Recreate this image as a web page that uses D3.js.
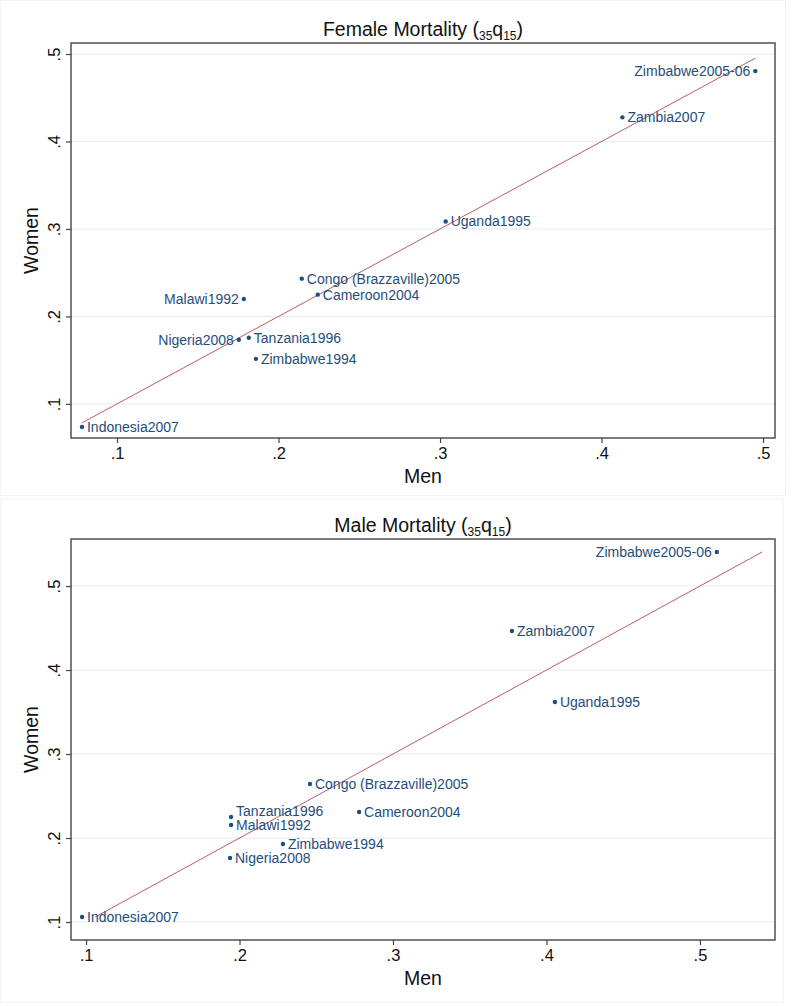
<!DOCTYPE html>
<html>
<head>
<meta charset="utf-8">
<script src="https://cdn.jsdelivr.net/npm/d3@7"></script>
<style>
  html, body { margin: 0; padding: 0; background: #fff; }
  svg { display: block; font-family: "Liberation Sans", Arial, Helvetica, sans-serif; }
</style>
</head>
<body>
<svg id="chart" width="793" height="1006"></svg>
<script>
// ---- Data ----
const countries = ["Indonesia2007", "Malawi1992", "Nigeria2008", "Tanzania1996", "Zimbabwe1994",
  "Congo (Brazzaville)2005", "Cameroon2004", "Uganda1995", "Zambia2007", "Zimbabwe2005-06"];

// Female mortality (35q15)
const femaleMen   = [0.0783, 0.1785, 0.1754, 0.1816, 0.1860, 0.2144, 0.2243, 0.3035, 0.4129, 0.4952];
const femaleWomen = [0.0737, 0.2200, 0.1733, 0.1756, 0.1515, 0.2432, 0.2249, 0.3085, 0.4276, 0.4805];
// Male mortality (35q15)
const maleMen   = [0.0974, 0.1945, 0.1938, 0.1945, 0.2283, 0.2459, 0.2779, 0.4055, 0.3775, 0.5110];
const maleWomen = [0.1060, 0.2155, 0.1762, 0.2250, 0.1929, 0.2643, 0.2310, 0.3619, 0.4464, 0.5405];

// marker label clock positions (Stata mlabvposition)
const femaleLabelPos = [3, 9, 9, 3, 3, 3, 3, 3, 3, 9];
const maleLabelPos   = [3, 3, 3, 2, 3, 3, 3, 3, 3, 9];

const tickValues = [0.1, 0.2, 0.3, 0.4, 0.5];
const tickLabels = [".1", ".2", ".3", ".4", ".5"];

// ---- Layout ----
const svg = d3.select("#chart");
const navy = "#1f4e7a";
const lineColor = "#b65f66";

// faint panel borders
svg.append("rect").attr("x", 0.5).attr("y", 0.5).attr("width", 785).attr("height", 495)
  .attr("fill", "none").attr("stroke", "#f0f4f5");
svg.append("rect").attr("x", 0.5).attr("y", 499.5).attr("width", 783).attr("height", 503)
  .attr("fill", "none").attr("stroke", "#f0f4f5");

const panels = [
  { title: ["Female Mortality (", "35", "q", "15", ")"], men: femaleMen, women: femaleWomen, pos: femaleLabelPos,
    xDomain: [0.0715, 0.5074], yDomain: [0.061, 0.5126], left: 71, right: 775, top: 43, bottom: 438,
    lineExtentFrom: "x" },
  { title: ["Male Mortality (", "35", "q", "15", ")"], men: maleMen, women: maleWomen, pos: maleLabelPos,
    xDomain: [0.0902, 0.5489], yDomain: [0.0786, 0.556], left: 71, right: 775, top: 539, bottom: 940,
    lineExtentFrom: "y" }
];

panels.forEach(p => {
  const g = svg.append("g");
  const x = d3.scaleLinear().domain(p.xDomain).range([p.left, p.right]);
  const y = d3.scaleLinear().domain(p.yDomain).range([p.bottom, p.top]);

  // gridlines
  g.append("g").selectAll("line").data(tickValues).join("line")
    .attr("x1", p.left).attr("x2", p.right)
    .attr("y1", d => y(d)).attr("y2", d => y(d))
    .attr("stroke", "#e4ecee").attr("stroke-width", 1);

  // axes
  const yAxis = d3.axisLeft(y).tickValues(tickValues).tickSize(5)
    .tickFormat((d, i) => tickLabels[i]);
  const ya = g.append("g").attr("transform", `translate(${p.left},0)`).call(yAxis);
  ya.select(".domain").remove();
  ya.selectAll(".tick line").attr("stroke", "#444").attr("stroke-width", 1.2);
  ya.selectAll(".tick text")
    .attr("font-size", 16.5).attr("fill", "#111")
    .attr("x", null).attr("dy", null)
    .attr("text-anchor", "middle")
    .attr("transform", "translate(-11,0) rotate(-90)");

  const xAxis = d3.axisBottom(x).tickValues(tickValues).tickSize(5)
    .tickFormat((d, i) => tickLabels[i]);
  const xa = g.append("g").attr("transform", `translate(0,${p.bottom})`).call(xAxis);
  xa.select(".domain").remove();
  xa.selectAll(".tick line").attr("stroke", "#444").attr("stroke-width", 1.2);
  xa.selectAll(".tick text").attr("font-size", 16.5).attr("fill", "#111")
    .attr("y", 9).attr("dy", "0.71em");

  // frame
  g.append("rect").attr("x", p.left).attr("y", p.top)
    .attr("width", p.right - p.left).attr("height", p.bottom - p.top)
    .attr("fill", "none").attr("stroke", "#444").attr("stroke-width", 1.4);

  // axis titles
  g.append("text").attr("x", (p.left + p.right) / 2).attr("y", p.bottom + 45)
    .attr("text-anchor", "middle").attr("font-size", 19.5).attr("fill", "#111").text("Men");
  g.append("text")
    .attr("transform", `translate(38,${(p.top + p.bottom) / 2}) rotate(-90)`)
    .attr("text-anchor", "middle").attr("font-size", 19.5).attr("fill", "#111").text("Women");

  // title
  const t = g.append("text").attr("x", (p.left + p.right) / 2).attr("y", p.top - 7)
    .attr("text-anchor", "middle").attr("font-size", 19.5).attr("fill", "#111");
  t.append("tspan").text(p.title[0]);
  t.append("tspan").attr("font-size", 12).attr("dy", 4).text(p.title[1]);
  t.append("tspan").attr("dy", -4).text(p.title[2]);
  t.append("tspan").attr("font-size", 12).attr("dy", 4).text(p.title[3]);
  t.append("tspan").attr("dy", -4).text(p.title[4]);

  // line of equality
  const ext = p.lineExtentFrom === "x" ? d3.extent(p.men) : d3.extent(p.women);
  g.append("path")
    .datum(ext.map(v => [v, v]))
    .attr("d", d3.line().x(d => x(d[0])).y(d => y(d[1])))
    .attr("fill", "none").attr("stroke", lineColor).attr("stroke-width", 1);

  // points
  const data = countries.map((c, i) => ({ c, mx: p.men[i], wy: p.women[i], pos: p.pos[i] }));
  g.append("g").selectAll("circle").data(data).join("circle")
    .attr("cx", d => x(d.mx)).attr("cy", d => y(d.wy)).attr("r", 2.2)
    .attr("fill", navy);

  g.append("g").selectAll("text").data(data).join("text")
    .attr("x", d => x(d.mx) + (d.pos === 9 ? -5 : 5))
    .attr("y", d => y(d.wy) + (d.pos === 2 ? -6 : 0))
    .attr("dy", "0.35em")
    .attr("text-anchor", d => d.pos === 9 ? "end" : "start")
    .attr("font-size", 14).attr("fill", navy)
    .text(d => d.c);
});
</script>
</body>
</html>
